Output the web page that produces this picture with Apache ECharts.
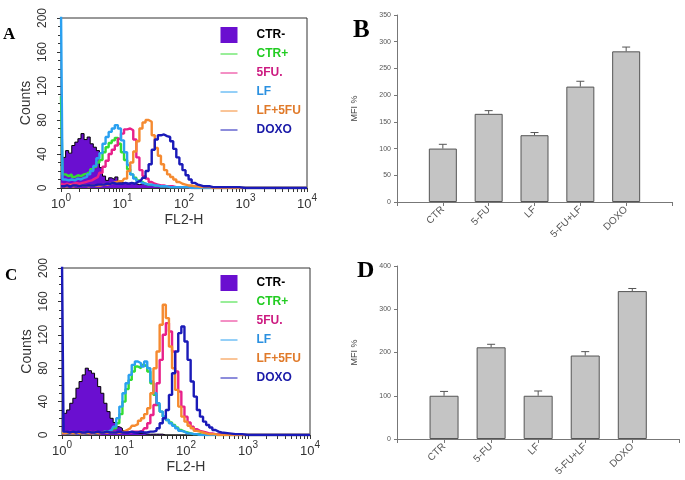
<!DOCTYPE html>
<html>
<head>
<meta charset="utf-8">
<script src="https://cdn.jsdelivr.net/npm/echarts@6/dist/echarts.min.js"></script>
<style>html,body{margin:0;padding:0;background:#fff}#c{width:685px;height:480px}</style>
</head>
<body>
<div id="c"></div>
<script>
// ---- Flow cytometry histograms: x = log10(FL2-H) channel positions ----
const flLog = [0,0.05,0.1,0.15,0.2,0.25,0.3,0.35,0.4,0.45,
  0.5,0.55,0.6,0.65,0.7,0.75,0.8,0.85,0.9,0.95,
  1,1.05,1.1,1.15,1.2,1.25,1.3,1.35,1.4,1.45,
  1.5,1.55,1.6,1.65,1.7,1.75,1.8,1.85,1.9,1.95,
  2,2.05,2.1,2.15,2.2,2.25,2.3,2.35,2.4,2.45,
  2.5,2.55,2.6,2.8,3.0,3.3,3.6,4.0];
const histNames = ['CTR-','CTR+','5FU.','LF','LF+5FU','DOXO'];
const histDecades = [0,1,2,3,4];
const countTicks = [0,40,80,120,160,200];

// Panel A counts
const A_ctrNeg = [26,36,44,41,50,54,58,64,57,60, 52,48,44,24,14,9,12,10,13,7, 6,5,5,6,5,4,5,4,3,3, 3,2,2,2,2,1,1,1,1,1, 1,1,0,0,0,0,0,0,0,0, 0,0,0, 0,0,0,0,0];
const A_ctrPos = [108,16,14,16,13,15,14,16,17,19, 22,25,30,33,42,48,53,56,59,52, 42,33,22,16,12,9,7,5,4,4, 3,3,2,2,2,1,1,1,1,1, 1,1,1,0,0,0,0,0,0,0, 0,0,0, 0,0,0,0,0];
const A_5fu    = [5,4,5,4,5,6,5,6,7,8, 9,11,13,18,25,32,40,45,50,58, 64,69,70,68,57,36,21,14,11,7, 5,4,3,3,2,2,2,1,1,1, 1,1,0,0,0,0,0,0,0,0, 0,0,0, 0,0,0,0,0];
const A_lf     = [210,10,9,10,9,11,10,12,13,16, 20,26,35,41,52,60,66,70,74,70, 56,42,27,16,11,8,6,5,4,4, 3,3,2,2,2,1,1,1,1,1, 1,1,0,0,0,0,0,0,0,0, 0,0,0, 0,0,0,0,0];
const A_lf5fu  = [2,2,2,3,2,3,2,3,3,2, 3,3,3,3,4,4,5,6,7,8, 8,11,20,30,43,55,70,77,80,78, 62,47,38,28,21,16,13,10,7,5, 4,3,3,2,2,1,1,1,1,0, 0,0,0, 0,0,0,0,0];
const A_doxo   = [2,2,3,2,3,3,2,3,3,3, 3,3,4,4,4,5,5,6,5,5, 5,6,5,6,5,7,9,12,20,28, 45,57,62,63,61,60,55,46,36,28, 21,15,10,6,4,3,2,2,2,1, 1,1,1, 1,0,0,0,0];

// Panel C counts
const C_ctrNeg = [30,26,30,38,44,56,64,72,80,77, 74,68,58,50,38,28,20,15,10,8, 5,4,3,3,2,2,2,1,1,1, 1,1,1,0,0,0,0,0,0,0, 0,0,0,0,0,0,0,0,0,0, 0,0,0, 0,0,0,0,0];
const C_ctrPos = [4,3,2,3,2,3,2,3,2,3, 3,2,3,3,4,4,5,8,14,25, 40,55,66,76,82,80,84,82,76,62, 48,36,28,22,18,15,12,9,6,4, 3,2,1,1,1,0,0,0,0,0, 0,0,0, 0,0,0,0,0];
const C_5fu    = [3,4,3,4,3,3,4,3,3,4, 3,4,3,3,4,3,3,4,3,3, 3,4,3,4,4,4,5,8,14,24, 36,62,90,120,134,124,100,76,52,34, 22,15,10,7,5,4,3,2,2,1, 1,1,0, 0,0,0,0,0];
const C_lf     = [3,2,3,2,3,2,3,2,3,3, 2,3,3,3,4,4,6,10,20,34, 50,62,72,84,88,86,82,88,80,64, 50,38,28,22,18,14,11,8,5,4, 2,2,1,1,0,0,0,0,0,0, 0,0,0, 0,0,0,0,0];
const C_lf5fu  = [2,2,3,2,2,3,2,2,3,2, 2,3,2,3,3,3,3,3,3,3, 4,6,8,11,13,17,20,25,32,50, 80,100,132,156,140,106,80,54,34,22, 16,11,8,5,4,3,2,1,1,1, 0,0,0, 0,0,0,0,0];
const C_doxo   = [210,4,3,4,3,4,3,3,4,3, 3,4,3,3,4,3,3,3,4,3, 3,3,4,3,3,4,3,3,4,4, 5,8,14,20,30,48,74,100,122,130, 112,90,64,46,30,22,16,12,9,6, 4,3,2, 1,0,0,0,0];

// ---- MFI bar charts ----
const mfiCats = ['CTR','5-FU','LF','5-FU+LF','DOXO'];
const B_mfi = [100,165,125,216,282];
const B_err = [8,6,5,10,8];
const D_mfi = [100,212,100,193,342];
const D_err = [10,7,11,9,6];
const B_ticks = [0,50,100,150,200,250,300,350];
const D_ticks = [0,100,200,300,400];

const histColors = ['#6a0fd0','#33dd33','#e8208a','#2aa0f0','#f58a30','#1a1ab8'];
const legendTextColors = ['#000000','#22cc22','#cc1a80','#2a90e0','#e07a2a','#1a1aa8'];

// tick positions (log10 of 1..9 x decade)
const minorTickPos = [];
for (let d = 0; d < 4; d++) for (let k = 1; k < 10; k++) minorTickPos.push(d + Math.log10(k));
minorTickPos.push(4);

function histSeries(g, idx, vals) {
  const data = flLog.map((x, i) => [x, vals[i]]);
  const s = {
    type: 'line', name: histNames[idx], xAxisIndex: g, yAxisIndex: g,
    data: data, step: 'middle', symbol: 'none', showSymbol: false,
    itemStyle: { color: histColors[idx] },
    lineStyle: { color: histColors[idx], width: 2.4 },
    z: 2 + idx, silent: true
  };
  if (idx === 0) {
    s.lineStyle = { color: '#000', width: 1 };
    s.areaStyle = { color: histColors[0], opacity: 1 };
  }
  return s;
}

function histX(g) {
  return {
    gridIndex: g, type: 'value', min: 0, max: 4, interval: 1,
    name: 'FL2-H', nameLocation: 'middle', nameGap: 25,
    nameTextStyle: { fontSize: 14, color: '#333', fontFamily: 'Liberation Sans' },
    axisLine: { show: true, lineStyle: { color: '#333' } },
    axisTick: { show: true, length: 4, customValues: minorTickPos, lineStyle: { color: '#333' } },
    axisLabel: {
      margin: 5, color: '#333',
      formatter: v => '{b|10}{s|' + v + '}',
      rich: {
        b: { fontSize: 13, fontFamily: 'Liberation Sans', color: '#333', lineHeight: 18, verticalAlign: 'bottom' },
        s: { fontSize: 10, fontFamily: 'Liberation Sans', color: '#333', lineHeight: 18, verticalAlign: 'top' }
      }
    },
    splitLine: { show: false }
  };
}
function histY(g) {
  return {
    gridIndex: g, type: 'value', min: 0, max: 200, interval: 40,
    name: 'Counts', nameLocation: 'middle', nameGap: 28,
    nameTextStyle: { fontSize: 14, color: '#333', fontFamily: 'Liberation Sans' },
    axisLine: { show: true, lineStyle: { color: '#333' } },
    axisTick: { show: true, length: 4, lineStyle: { color: '#333' } },
    minorTick: { show: true, splitNumber: 4, length: 3, lineStyle: { color: '#333' } },
    axisLabel: { rotate: 90, margin: 12, fontSize: 12, color: '#333', fontFamily: 'Liberation Sans' },
    splitLine: { show: false }
  };
}
const barCatsPadded = [''].concat(mfiCats, [' ']);
function barX(g) {
  return {
    gridIndex: g, type: 'category', data: barCatsPadded, boundaryGap: false,
    axisLine: { show: true, lineStyle: { color: '#777' } },
    axisTick: { show: true, interval: 0, length: 4, lineStyle: { color: '#777' } },
    axisLabel: { rotate: 45, interval: 0, fontSize: 10, color: '#555', margin: 6, fontFamily: 'Liberation Sans' },
    splitLine: { show: false }
  };
}
function barY(g, ticks) {
  return {
    gridIndex: g, type: 'value', min: ticks[0], max: ticks[ticks.length - 1], interval: ticks[1] - ticks[0],
    name: 'MFI %', nameLocation: 'middle', nameGap: 38,
    nameTextStyle: { fontSize: 9, color: '#444', fontFamily: 'Liberation Sans' },
    axisLine: { show: true, lineStyle: { color: '#777' } },
    axisTick: { show: true, length: 3, lineStyle: { color: '#777' } },
    axisLabel: { fontSize: 7, color: '#555', margin: 6, fontFamily: 'Liberation Sans' },
    splitLine: { show: false }
  };
}
function barSeries(g, vals, width) {
  return {
    type: 'bar', xAxisIndex: g, yAxisIndex: g, barWidth: width, silent: true,
    data: [null].concat(vals, [null]),
    itemStyle: { color: '#c4c4c4', borderColor: '#555', borderWidth: 1 },
    z: 2
  };
}
function errSeries(g, vals, errs) {
  return {
    type: 'custom', xAxisIndex: g, yAxisIndex: g, silent: true, z: 3,
    data: vals.map((v, i) => [i + 1, v, errs[i]]),
    renderItem: function (params, api) {
      const x = api.value(0), v = api.value(1), e = api.value(2);
      const p0 = api.coord([x, v]);
      const p1 = api.coord([x, v + e]);
      const st = { stroke: '#555', lineWidth: 1 };
      return { type: 'group', children: [
        { type: 'line', shape: { x1: p0[0], y1: p0[1], x2: p1[0], y2: p1[1] }, style: st },
        { type: 'line', shape: { x1: p1[0] - 4, y1: p1[1], x2: p1[0] + 4, y2: p1[1] }, style: st }
      ] };
    }
  };
}
function legendFor(top) {
  return {
    orient: 'vertical', left: 220, top: top, itemWidth: 17, itemHeight: 16, itemGap: 3,
    selectedMode: false, padding: 0,
    textStyle: { fontSize: 12, fontWeight: 'bold', fontFamily: 'Liberation Sans', lineHeight: 16, padding: [0, 0, 0, 14] },
    data: histNames.map((n, i) => i === 0
      ? { name: n, icon: 'rect', itemStyle: { color: histColors[0], borderWidth: 0 }, textStyle: { color: legendTextColors[i] } }
      : { name: n, itemStyle: { opacity: 0 }, lineStyle: { width: 1, color: histColors[i] }, textStyle: { color: legendTextColors[i] } })
  };
}
function letter(t, left, top, size) {
  return { text: t, left: left, top: top, padding: 0,
    textStyle: { fontFamily: 'Liberation Serif', fontWeight: 'bold', fontSize: size, color: '#000' } };
}

const A = [A_ctrNeg, A_ctrPos, A_5fu, A_lf, A_lf5fu, A_doxo];
const C = [C_ctrNeg, C_ctrPos, C_5fu, C_lf, C_lf5fu, C_doxo];

const option = {
  animation: false,
  backgroundColor: '#fff',
  title: [letter('A', 3, 26, 17), letter('B', 353, 18, 25), letter('C', 5, 267, 17), letter('D', 357, 259, 24)],
  grid: [
    { left: 61, top: 18, width: 246, height: 170, show: true, borderColor: '#333', borderWidth: 1, backgroundColor: 'transparent' },
    { left: 397, top: 15, width: 275, height: 187 },
    { left: 62, top: 268, width: 248, height: 167, show: true, borderColor: '#333', borderWidth: 1, backgroundColor: 'transparent' },
    { left: 397, top: 266, width: 283, height: 173 }
  ],
  xAxis: [histX(0), barX(1), histX(2), barX(3)],
  yAxis: [histY(0), barY(1, B_ticks), histY(2), barY(3, D_ticks)],
  legend: [legendFor(27), legendFor(275)],
  series: [].concat(
    A.map((v, i) => histSeries(0, i, v)),
    C.map((v, i) => histSeries(2, i, v)),
    [barSeries(1, B_mfi, 28), errSeries(1, B_mfi, B_err), barSeries(3, D_mfi, 29), errSeries(3, D_mfi, D_err)]
  )
};
const chart = echarts.init(document.getElementById('c'), null, { renderer: 'canvas' });
chart.setOption(option);
</script>
</body>
</html>
